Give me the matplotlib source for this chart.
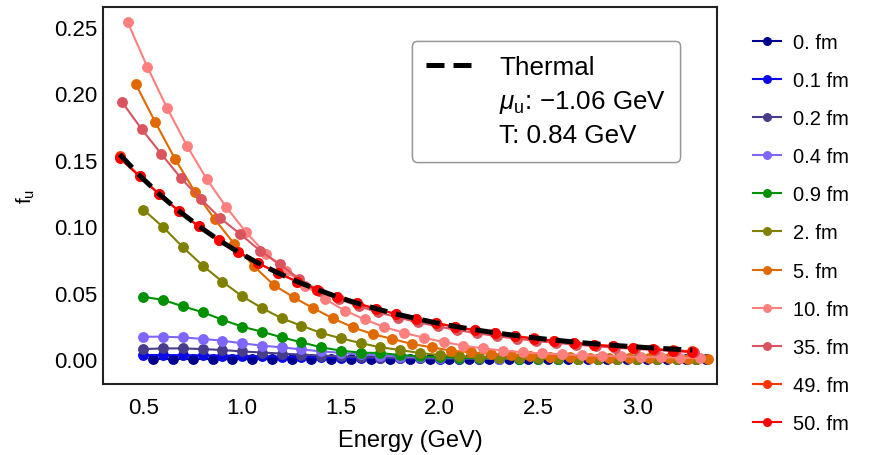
import numpy as np
import matplotlib
matplotlib.use("Agg")
import matplotlib.pyplot as plt
from matplotlib.lines import Line2D

plt.rcParams['font.family'] = ['Liberation Sans', 'DejaVu Sans']
plt.rcParams['mathtext.fontset'] = 'custom'
plt.rcParams['mathtext.rm'] = 'Liberation Sans'
plt.rcParams['mathtext.it'] = 'Liberation Sans:italic'

# energy grids (GeV)
e_a = [0.50, 0.60, 0.70, 0.80, 0.90, 1.00, 1.10, 1.20, 1.30, 1.40, 1.50, 1.60, 1.70, 1.80, 1.90,
       2.00, 2.10, 2.20, 2.30, 2.40, 2.50, 2.60, 2.70, 2.80, 2.90, 3.00, 3.10, 3.20, 3.30]
e_0 = [0.55, 0.65, 0.75, 0.85, 0.95, 1.05, 1.15, 1.25, 1.35, 1.45, 1.55, 1.65, 1.75, 1.85, 1.95,
       2.05, 2.15, 2.25, 2.35, 2.45, 2.55, 2.65, 2.75, 2.85, 2.95, 3.05, 3.15, 3.25, 3.35]
e_5 = [0.46, 0.56, 0.66, 0.76, 0.86, 0.96, 1.06, 1.16, 1.26, 1.36, 1.46, 1.56, 1.66, 1.76, 1.86,
       1.96, 2.06, 2.16, 2.26, 2.36, 2.46, 2.56, 2.66, 2.76, 2.86, 2.96, 3.06, 3.16, 3.26, 3.36]
e_10 = [0.42, 0.52, 0.62, 0.72, 0.82, 0.92, 1.02, 1.12, 1.22, 1.32, 1.42, 1.52, 1.62, 1.72, 1.82,
        1.92, 2.02, 2.12, 2.22, 2.32, 2.42, 2.52, 2.62, 2.72, 2.82, 2.92, 3.02, 3.12, 3.22, 3.32]
e_35 = [0.39, 0.49, 0.59, 0.69, 0.79, 0.89, 0.99, 1.09, 1.19, 1.29, 1.39, 1.49, 1.59, 1.69, 1.79,
        1.89, 1.99, 2.09, 2.19, 2.29, 2.39, 2.49, 2.59, 2.69, 2.79, 2.89, 2.99, 3.09, 3.19, 3.29]
e_th = [0.38, 0.48, 0.58, 0.68, 0.78, 0.88, 0.98, 1.08, 1.18, 1.28, 1.38, 1.48, 1.58, 1.68, 1.78,
        1.88, 1.98, 2.08, 2.18, 2.28, 2.38, 2.48, 2.58, 2.68, 2.78, 2.88, 2.98, 3.08, 3.18, 3.28]

f_0fm = [0.0, 0.0, 0.0, 0.0, 0.0, 0.0, 0.0, 0.0, 0.0, 0.0, 0.0, 0.0, 0.0, 0.0, 0.0,
         0.0, 0.0, 0.0, 0.0, 0.0, 0.0, 0.0, 0.0, 0.0, 0.0, 0.0, 0.0, 0.0, 0.0]
f_01fm = [0.0030, 0.0030, 0.0029, 0.0028, 0.0026, 0.0024, 0.0021, 0.0018, 0.0015, 0.0012,
          0.0010, 0.0008, 0.0006, 0.0005, 0.0004, 0.0003, 0.0002, 0.0002, 0.0001, 0.0001,
          0.0001, 0.0, 0.0, 0.0, 0.0, 0.0, 0.0, 0.0, 0.0]
f_02fm = [0.0075, 0.0080, 0.0080, 0.0075, 0.0068, 0.0057, 0.0049, 0.0041, 0.0033, 0.0026,
          0.0020, 0.0015, 0.0011, 0.0008, 0.0006, 0.0004, 0.0003, 0.0002, 0.0002, 0.0001,
          0.0001, 0.0001, 0.0, 0.0, 0.0, 0.0, 0.0, 0.0, 0.0]
f_04fm = [0.0168, 0.0168, 0.0163, 0.0151, 0.0138, 0.0118, 0.0101, 0.0088, 0.0072, 0.0058,
          0.0046, 0.0035, 0.0026, 0.0019, 0.0014, 0.0010, 0.0007, 0.0005, 0.0003, 0.0002,
          0.0002, 0.0001, 0.0001, 0.0, 0.0, 0.0, 0.0, 0.0, 0.0]
f_09fm = [0.0469, 0.0444, 0.0397, 0.0352, 0.0296, 0.0243, 0.0206, 0.0163, 0.0126, 0.0088,
          0.0063, 0.0048, 0.0045, 0.0030, 0.0020, 0.0013, 0.0009, 0.0006, 0.0004, 0.0003,
          0.0002, 0.0001, 0.0001, 0.0001, 0.0, 0.0, 0.0, 0.0, 0.0]
f_2fm = [0.1124, 0.0992, 0.0841, 0.0703, 0.0582, 0.0472, 0.0384, 0.0306, 0.0251, 0.0196,
         0.0156, 0.0120, 0.0088, 0.0068, 0.0045, 0.0030, 0.0020, 0.0014, 0.0010, 0.0007,
         0.0005, 0.0004, 0.0003, 0.0002, 0.0002, 0.0001, 0.0001, 0.0001, 0.0]
f_5fm = [0.2071, 0.1782, 0.1506, 0.1260, 0.1054, 0.0866, 0.0698, 0.0557, 0.0465, 0.0382,
         0.0306, 0.0239, 0.0188, 0.0151, 0.0113, 0.0088, 0.0063, 0.0050, 0.0038, 0.0029,
         0.0022, 0.0017, 0.0013, 0.0010, 0.0008, 0.0006, 0.0005, 0.0004, 0.0003, 0.0002]
f_10fm = [0.2535, 0.2197, 0.1888, 0.1606, 0.1355, 0.1142, 0.0954, 0.0791, 0.0665, 0.0552,
          0.0450, 0.0365, 0.0298, 0.0240, 0.0198, 0.0160, 0.0128, 0.0101, 0.0080, 0.0064,
          0.0051, 0.0042, 0.0035, 0.0029, 0.0024, 0.0020, 0.0016, 0.0013, 0.0010, 0.0008]
f_35fm = [0.1937, 0.1732, 0.1544, 0.1361, 0.1205, 0.1059, 0.0941, 0.0816, 0.0715, 0.0602,
          0.0514, 0.0450, 0.0398, 0.0352, 0.0312, 0.0277, 0.0246, 0.0218, 0.0194, 0.0172,
          0.0153, 0.0136, 0.0121, 0.0108, 0.0096, 0.0085, 0.0076, 0.0068, 0.0060, 0.0053]
f_49fm = [0.1525, 0.1378, 0.1240, 0.1113, 0.0999, 0.0896, 0.0804, 0.0722, 0.0648, 0.0582,
          0.0522, 0.0469, 0.0420, 0.0377, 0.0339, 0.0304, 0.0272, 0.0243, 0.0218, 0.0195,
          0.0174, 0.0155, 0.0138, 0.0123, 0.0109, 0.0097, 0.0086, 0.0076, 0.0067, 0.0058]
f_50fm = [0.1510, 0.1375, 0.1240, 0.1112, 0.0998, 0.0895, 0.0803, 0.0722, 0.0648, 0.0581,
          0.0522, 0.0468, 0.0420, 0.0377, 0.0338, 0.0302, 0.0270, 0.0241, 0.0216, 0.0193,
          0.0172, 0.0153, 0.0136, 0.0121, 0.0107, 0.0095, 0.0084, 0.0074, 0.0064, 0.0052]
f_thermal = [0.1540, 0.1382, 0.1241, 0.1114, 0.1000, 0.0897, 0.0805, 0.0723, 0.0649, 0.0582,
             0.0523, 0.0469, 0.0421, 0.0378, 0.0339, 0.0305, 0.0273, 0.0245, 0.0220, 0.0198,
             0.0178, 0.0159, 0.0143, 0.0128, 0.0115, 0.0103, 0.0093, 0.0083, 0.0075, 0.0067]

labels = ["0. fm", "0.1 fm", "0.2 fm", "0.4 fm", "0.9 fm", "2. fm",
          "5. fm", "10. fm", "35. fm", "49. fm", "50. fm"]
grids = [e_0, e_a, e_a, e_a, e_a, e_a, e_5, e_10, e_35, e_th, e_th]
values = [f_0fm, f_01fm, f_02fm, f_04fm, f_09fm, f_2fm, f_5fm, f_10fm, f_35fm, f_49fm, f_50fm]
colors = ["#00008f", "#0a0ae6", "#483d8b", "#7f66ff", "#009000", "#808000",
          "#e06a00", "#ff7f7f", "#d9545f", "#ff3300", "#ff0000"]

fig = plt.figure(figsize=(8.76, 4.56), dpi=100)
ax = fig.add_axes([0.1176, 0.1557, 0.7009, 0.8268])

handles = []
for e, f, c, lab in zip(grids, values, colors, labels):
    h, = ax.plot(e, f, '-o', color=c, lw=1.5, ms=6.8, label=lab)
    handles.append(h)

th, = ax.plot(e_th, f_thermal, color='black', lw=3.6, dashes=(3.6, 1.8), zorder=5)

ax.set_xlim(0.295, 3.405)
ax.set_ylim(-0.0188, 0.265)
ax.set_xticks([0.5, 1.0, 1.5, 2.0, 2.5, 3.0])
ax.set_yticks([0.0, 0.05, 0.10, 0.15, 0.20, 0.25])
ax.set_yticklabels(["0.00", "0.05", "0.10", "0.15", "0.20", "0.25"])
ax.tick_params(axis='both', length=0, labelsize=16)
ax.tick_params(axis='x', pad=9)
ax.tick_params(axis='y', pad=4)
for s in ax.spines.values():
    s.set_linewidth(1.5)
    s.set_color('#222222')

ax.set_xlabel("Energy (GeV)", fontsize=17, labelpad=8)
ax.set_ylabel(r"f$_\mathregular{u}$", fontsize=15, labelpad=12)

blank = Line2D([], [], lw=0, marker=None)
leg1 = ax.legend([th, blank, blank],
                 ["Thermal", r"$\mu_\mathrm{u}$: $-$1.06 GeV", "T: 0.84 GeV"],
                 loc='upper right', bbox_to_anchor=(0.94, 0.91), fontsize=18.7,
                 handlelength=2.0, handletextpad=0.8, labelspacing=0.33,
                 frameon=True, fancybox=True, edgecolor='#999999', framealpha=1,
                 borderpad=0.55, borderaxespad=0)
leg1.get_frame().set_linewidth(1.0)
ax.add_artist(leg1)

fig.legend(handles=handles, loc='center left', bbox_to_anchor=(0.848, 0.487),
           frameon=False, fontsize=14.5, handlelength=1.4, handletextpad=0.6,
           labelspacing=0.95, markerscale=0.8, borderpad=0)

fig.savefig("out.png", dpi=100)
